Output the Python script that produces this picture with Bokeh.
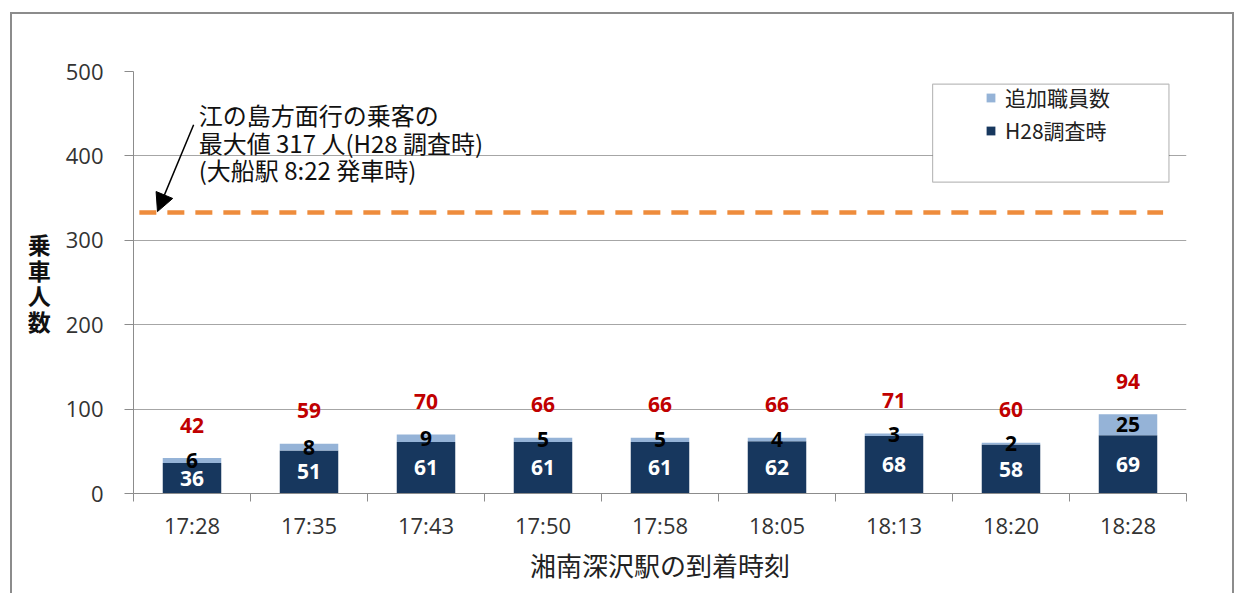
from bokeh.plotting import figure
from bokeh.models import (ColumnDataSource, FixedTicker, Range1d, Legend, LegendItem,
                          Arrow, NormalHead, Label, BoxAnnotation)
from bokeh.core.properties import value
from bokeh.embed import file_html
from bokeh.resources import INLINE

# ---- data ----
categories = ["17:28", "17:35", "17:43", "17:50", "17:58", "18:05", "18:13", "18:20", "18:28"]
h28 = [36, 51, 61, 61, 61, 62, 68, 58, 69]
added = [6, 8, 9, 5, 5, 4, 3, 2, 25]
totals = [42, 59, 70, 66, 66, 66, 71, 60, 94]
y_ticks = [0, 100, 200, 300, 400, 500]
max_line_value = 333
annotation_lines = ["江の島方面行の乗客の", "最大値 317 人(H28 調査時)", "(大船駅 8:22 発車時)"]
series_names = ["追加職員数", "H28調査時"]
x_title = "湘南深沢駅の到着時刻"
y_title = "乗\n車\n人\n数"

DARK = "#17375E"
LIGHT = "#95B3D7"
RED = "#C00000"
ORANGE = "#EE8C3C"
GRID = "#A6A6A6"
FRAME = "#8C8C8C"
JP = "Noto Sans CJK JP"
NUM = "Open Sans"

xs = [i + 0.5 for i in range(len(categories))]
src = ColumnDataSource(dict(
    x=xs, h28=h28, added=added, totals=totals,
    stack_top=[a + b for a, b in zip(h28, added)],
    h28_mid=[a / 2 for a in h28],
    add_mid=[a + b / 2 for a, b in zip(h28, added)],
    h28_txt=[str(v) for v in h28],
    add_txt=[str(v) for v in added],
    tot_txt=[str(v) for v in totals],
))

p = figure(width=1224, height=581, x_range=Range1d(0, len(categories)), y_range=Range1d(0, 500),
           output_backend="svg", toolbar_location=None,
           min_border_left=121, min_border_right=50, min_border_top=57, min_border_bottom=102)
p.styles = {"margin-left": "10px", "margin-top": "12px",
            "border-left": f"2px solid {FRAME}", "border-top": f"2px solid {FRAME}",
            "border-right": f"2px solid {FRAME}"}
p.outline_line_color = None
p.background_fill_color = "white"
p.border_fill_color = "white"

# axes
p.yaxis.ticker = FixedTicker(ticks=y_ticks)
p.yaxis.major_tick_out = 9
p.yaxis.major_tick_in = 0
p.yaxis.minor_tick_line_color = None
p.yaxis.axis_line_color = FRAME
p.yaxis.major_tick_line_color = FRAME
p.yaxis.major_label_text_font = NUM
p.yaxis.major_label_text_font_size = "22px"
p.yaxis.major_label_text_color = "#333333"
p.yaxis.major_label_standoff = 21
p.yaxis.axis_label = y_title
p.yaxis.axis_label_orientation = "horizontal"
p.yaxis.axis_label_text_font = JP
p.yaxis.axis_label_text_font_style = "bold"
p.yaxis.axis_label_text_font_size = "23px"
p.yaxis.axis_label_text_line_height = 0.75
p.yaxis.axis_label_standoff = 12
p.yaxis.axis_label_text_color = "#111111"

p.xaxis.ticker = FixedTicker(ticks=xs, minor_ticks=list(range(len(categories) + 1)))
p.xaxis.major_label_overrides = {x: c for x, c in zip(xs, categories)}
p.xaxis.major_tick_line_color = None
p.xaxis.major_tick_out = 0
p.xaxis.minor_tick_line_color = FRAME
p.xaxis.minor_tick_out = 8
p.xaxis.minor_tick_in = 0
p.xaxis.axis_line_color = FRAME
p.xaxis.major_label_text_font = NUM
p.xaxis.major_label_text_font_size = "22px"
p.xaxis.major_label_text_color = "#333333"
p.xaxis.major_label_standoff = 8
p.xaxis.axis_label = x_title
p.xaxis.axis_label_text_font = JP
p.xaxis.axis_label_text_font_style = "normal"
p.xaxis.axis_label_text_font_size = "26px"
p.xaxis.axis_label_text_color = "#222222"
p.xaxis.axis_label_standoff = 3

p.xgrid.visible = False
p.ygrid.grid_line_color = GRID
p.ygrid.grid_line_width = 1

# bars
r_dark = p.vbar(x="x", width=0.5, bottom=0, top="h28", source=src,
                fill_color=DARK, line_color=None)
r_light = p.vbar(x="x", width=0.5, bottom="h28", top="stack_top", source=src,
                 fill_color=LIGHT, line_color=None)

# value labels
p.text(x="x", y="h28_mid", text="h28_txt", source=src, text_color="white",
       text_font=value(NUM), text_font_style="bold", text_font_size="21px",
       text_align="center", text_baseline="middle")
p.text(x="x", y="add_mid", text="add_txt", source=src, text_color="black",
       text_font=value(NUM), text_font_style="bold", text_font_size="21px",
       text_align="center", text_baseline="middle")
p.text(x="x", y="stack_top", text="tot_txt", source=src, text_color=RED,
       text_font=value(NUM), text_font_style="bold", text_font_size="21px",
       text_align="center", text_baseline="middle", y_offset=-33)

# reference dashed line
p.segment(x0=0.05, x1=8.8, y0=max_line_value, y1=max_line_value,
          line_color=ORANGE, line_width=4.5, line_dash="17 11")

# annotation
for i, t in enumerate(annotation_lines):
    p.add_layout(Label(x=0.557, y=449 - i * 32.7, text=t, text_font=JP, text_font_size="24px",
                       text_baseline="middle", text_color="#111111"))
p.add_layout(Arrow(end=NormalHead(size=18, fill_color="black", line_color="black"),
                   x_start=0.514, y_start=437, x_end=0.205, y_end=334,
                   line_color="black", line_width=1.5))

# legend
p.add_layout(BoxAnnotation(left=6.83, right=8.85, top=485, bottom=369,
                           fill_color="white", fill_alpha=1.0,
                           line_color="#222222", line_width=1.2))
legend = Legend(items=[LegendItem(label=series_names[0], renderers=[r_light]),
                       LegendItem(label=series_names[1], renderers=[r_dark])],
                location=(852, 348), border_line_color=None, background_fill_alpha=0,
                label_text_font=JP, label_text_font_size="21px", label_text_color="#222222",
                glyph_width=11, glyph_height=11, label_standoff=9, spacing=3, padding=4,
                label_height=22)
p.add_layout(legend, "center")

open("out.html", "w").write(file_html(p, INLINE))
